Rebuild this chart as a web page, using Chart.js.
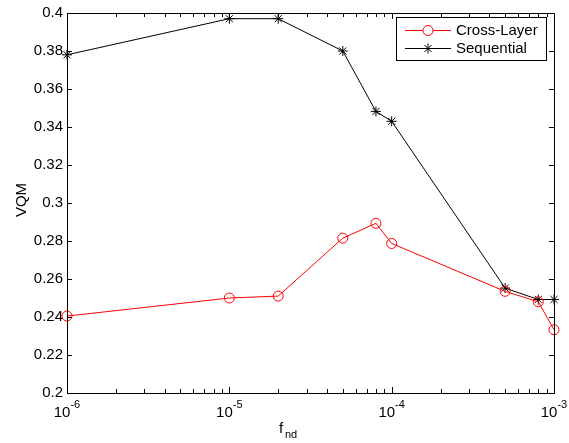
<!DOCTYPE html>
<html>
<head>
<meta charset="utf-8">
<script src="https://cdn.jsdelivr.net/npm/chart.js@4/dist/chart.umd.min.js"></script>
<style>
  body { margin: 0; background: #fff; }
  canvas { display: block; }
</style>
</head>
<body>
<canvas id="chart" width="569" height="443"></canvas>
<script>
const fnd = [1e-6, 1e-5, 2e-5, 5e-5, 8e-5, 1e-4, 5e-4, 8e-4, 1e-3];
const crossLayer = [0.2405, 0.2500, 0.2510, 0.2815, 0.2893, 0.2787, 0.2535, 0.2480, 0.2333];
const sequential = [0.3780, 0.3970, 0.3970, 0.3800, 0.3482, 0.3430, 0.2552, 0.2492, 0.2492];
const xMajor = [1e-6, 1e-5, 1e-4, 1e-3];
const xExp = ['-6', '-5', '-4', '-3'];
const xMinor = [2e-6, 3e-6, 4e-6, 5e-6, 6e-6, 7e-6, 8e-6, 9e-6,
                2e-5, 3e-5, 4e-5, 5e-5, 6e-5, 7e-5, 8e-5, 9e-5,
                2e-4, 3e-4, 4e-4, 5e-4, 6e-4, 7e-4, 8e-4, 9e-4];
const yTicks = [0.2, 0.22, 0.24, 0.26, 0.28, 0.3, 0.32, 0.34, 0.36, 0.38, 0.4];

const FONT = 'Liberation Sans, Arial, sans-serif';

function line(ctx, x1, y1, x2, y2) {
    ctx.beginPath();
    ctx.moveTo(x1, y1);
    ctx.lineTo(x2, y2);
    ctx.stroke();
}

const matlabAxes = {
    id: 'matlabAxes',
    afterDraw(chart) {
        const ctx = chart.ctx;
        const a = chart.chartArea;
        const x = chart.scales.x, y = chart.scales.y;
        ctx.save();
        ctx.strokeStyle = '#000';
        ctx.lineWidth = 1;
        ctx.strokeRect(Math.round(a.left) + 0.5, Math.round(a.top) + 0.5,
            Math.round(a.right - a.left), Math.round(a.bottom - a.top));

        // inward tick marks
        xMajor.forEach(v => {
            const px = Math.round(x.getPixelForValue(v)) + 0.5;
            line(ctx, px, a.bottom, px, a.bottom - 6);
            line(ctx, px, a.top, px, a.top + 6);
        });
        xMinor.forEach(v => {
            const px = Math.round(x.getPixelForValue(v)) + 0.5;
            line(ctx, px, a.bottom, px, a.bottom - 4);
            line(ctx, px, a.top, px, a.top + 4);
        });
        yTicks.forEach(v => {
            const py = Math.round(y.getPixelForValue(v)) + 0.5;
            line(ctx, a.left, py, a.left + 5, py);
            line(ctx, a.right, py, a.right - 5, py);
        });

        // x tick labels 10^n
        ctx.fillStyle = '#000';
        ctx.textBaseline = 'alphabetic';
        xMajor.forEach((v, i) => {
            const px = x.getPixelForValue(v);
            ctx.font = '15px ' + FONT;
            const w1 = ctx.measureText('10').width;
            ctx.font = '11px ' + FONT;
            const w2 = ctx.measureText(xExp[i]).width;
            const left = px - (w1 + w2) / 2;
            ctx.textAlign = 'left';
            ctx.font = '15px ' + FONT;
            ctx.fillText('10', left, a.bottom + 24);
            ctx.font = '11px ' + FONT;
            ctx.fillText(xExp[i], left + w1, a.bottom + 15);
        });

        // x title f_nd
        ctx.font = '15px ' + FONT;
        ctx.textAlign = 'left';
        ctx.fillText('f', 279, 433);
        ctx.font = '11px ' + FONT;
        ctx.fillText('nd', 285, 438);

        // y title
        ctx.save();
        ctx.translate(26, 200);
        ctx.rotate(-Math.PI / 2);
        ctx.font = '15px ' + FONT;
        ctx.textAlign = 'center';
        ctx.fillText('VQM', 0, 0);
        ctx.restore();

        // legend box
        const lx = 396, ly = 17, lw = 150, lh = 43;
        ctx.fillStyle = '#fff';
        ctx.fillRect(lx, ly, lw, lh);
        ctx.strokeRect(lx + 0.5, ly + 0.5, lw, lh);
        const items = [
            { label: 'Cross-Layer', color: '#ff0000', style: 'circle', y: ly + 13 },
            { label: 'Sequential', color: '#000000', style: 'star', y: ly + 31 }
        ];
        items.forEach(it => {
            ctx.strokeStyle = it.color;
            line(ctx, lx + 9, it.y + 0.5, lx + 55, it.y + 0.5);
            Chart.helpers.drawPoint(ctx, { pointStyle: it.style, radius: 5, borderWidth: 1 }, lx + 32, it.y + 0.5);
            ctx.fillStyle = '#000';
            ctx.font = '15px ' + FONT;
            ctx.textBaseline = 'middle';
            ctx.textAlign = 'left';
            ctx.fillText(it.label, lx + 60, it.y + 1);
        });
        ctx.restore();
    }
};

new Chart(document.getElementById('chart'), {
    type: 'line',
    data: {
        datasets: [{
            label: 'Cross-Layer',
            data: fnd.map((v, i) => ({ x: v, y: crossLayer[i] })),
            borderColor: '#ff0000',
            borderWidth: 1,
            pointStyle: 'circle',
            pointRadius: 5,
            pointBorderColor: '#ff0000',
            pointBackgroundColor: 'rgba(0,0,0,0)',
            pointBorderWidth: 1,
            tension: 0,
            clip: false
        }, {
            label: 'Sequential',
            data: fnd.map((v, i) => ({ x: v, y: sequential[i] })),
            borderColor: '#000000',
            borderWidth: 1,
            pointStyle: 'star',
            pointRadius: 5,
            pointBorderColor: '#000000',
            pointBackgroundColor: 'rgba(0,0,0,0)',
            pointBorderWidth: 1,
            tension: 0,
            clip: false
        }]
    },
    options: {
        responsive: false,
        animation: false,
        devicePixelRatio: 1,
        layout: { padding: { left: 0, top: 10, right: 15, bottom: 0 } },
        plugins: {
            legend: { display: false },
            tooltip: { enabled: false }
        },
        scales: {
            x: {
                type: 'logarithmic',
                min: 1e-6,
                max: 1e-3,
                grid: { display: false },
                border: { display: false },
                ticks: { display: false },
                afterFit: s => { s.height = 50; }
            },
            y: {
                min: 0.2,
                max: 0.4,
                grid: { display: false, drawTicks: false },
                border: { display: false },
                afterBuildTicks: s => { s.ticks = yTicks.map(v => ({ value: v })); },
                ticks: {
                    color: '#000',
                    padding: 4,
                    font: { family: FONT, size: 15 },
                    callback: v => String(Math.round(v * 100) / 100)
                },
                afterFit: s => { s.width = 67; }
            }
        }
    },
    plugins: [matlabAxes]
});
</script>
</body>
</html>
